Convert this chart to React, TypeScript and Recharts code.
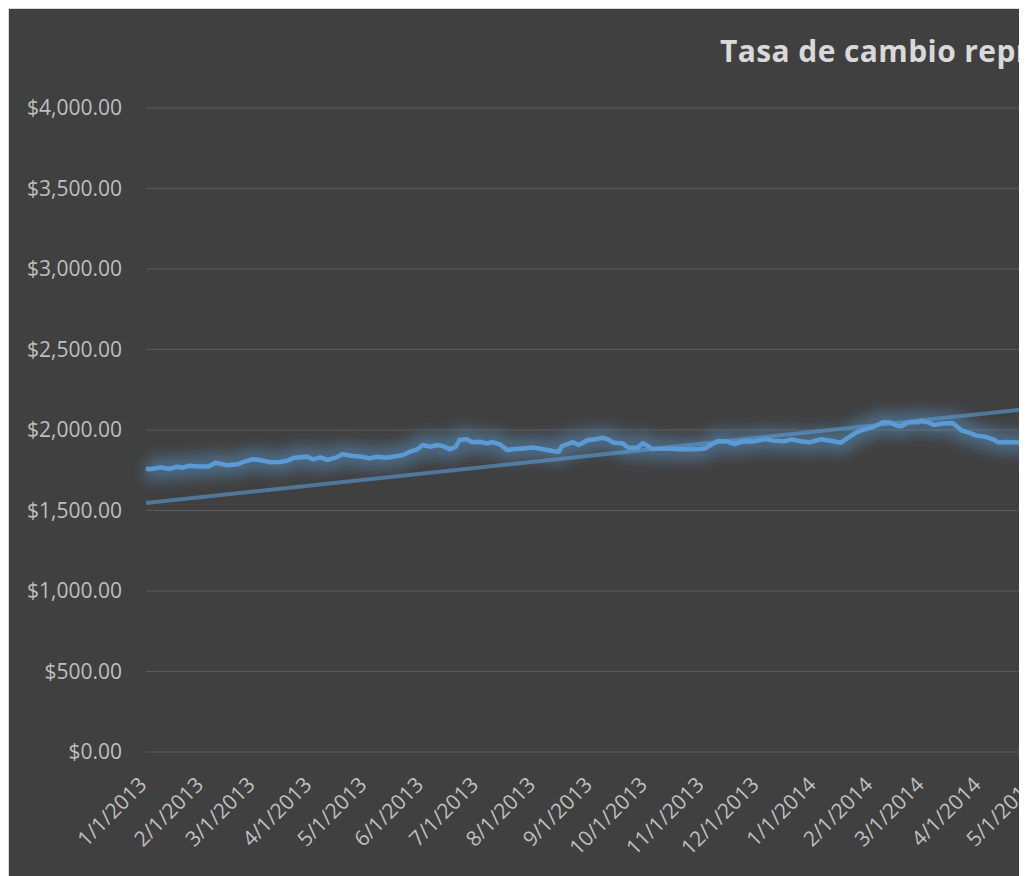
import { LineChart, Line, XAxis, YAxis, CartesianGrid } from "recharts";

// days since 1/1/2013 and the rate read for each one
const days = [
  0, 2, 8, 13, 17, 20, 24, 29, 34, 38,
  44, 50, 53, 58, 62, 68, 73, 77, 81, 88,
  91, 95, 99, 104, 107, 113, 118, 122, 126, 131,
  137, 140, 144, 148, 151, 155, 159, 162, 166, 169,
  171, 175, 178, 182, 186, 189, 193, 197, 200, 204,
  211, 215, 222, 225, 227, 233, 236, 241, 245, 249,
  252, 255, 260, 263, 268, 271, 273, 276, 280, 286,
  291, 297, 302, 305, 308, 312, 317, 321, 326, 331,
  338, 342, 348, 352, 357, 362, 368, 375, 379, 383,
  388, 392, 397, 402, 406, 410, 412, 416, 421, 423,
  427, 430, 434, 440, 442, 445, 450, 453, 458, 462,
  465, 470, 474, 478, 482, 486,
];
const rates = [
  1762, 1756, 1768, 1758, 1772, 1766, 1778, 1774, 1774, 1797,
  1781, 1787, 1801, 1818, 1814, 1799, 1801, 1809, 1828, 1834,
  1818, 1830, 1814, 1830, 1849, 1838, 1834, 1824, 1834, 1828,
  1838, 1845, 1865, 1880, 1907, 1896, 1907, 1900, 1880, 1896,
  1938, 1942, 1924, 1927, 1917, 1925, 1911, 1876, 1880, 1884,
  1892, 1884, 1870, 1865, 1900, 1924, 1907, 1938, 1942, 1952,
  1942, 1921, 1917, 1890, 1890, 1917, 1907, 1882, 1884, 1884,
  1880, 1880, 1882, 1886, 1907, 1932, 1928, 1913, 1930, 1928,
  1944, 1934, 1930, 1942, 1930, 1924, 1942, 1930, 1921, 1952,
  1989, 2004, 2020, 2048, 2046, 2025, 2023, 2048, 2048, 2056,
  2046, 2031, 2040, 2043, 2025, 1996, 1979, 1965, 1958, 1942,
  1924, 1926, 1924, 1921, 1928, 1932,
];

// linear trend (Excel trendline) at the two ends of the axis
const trendDays = [0, 546];
const trendRates = [1547, 2209];

const tickDays = [0, 31, 59, 90, 120, 151, 181, 212, 243, 273, 304, 334, 365, 396, 424, 455, 485, 516];
const tickLabels = [
  "1/1/2013", "2/1/2013", "3/1/2013", "4/1/2013", "5/1/2013", "6/1/2013",
  "7/1/2013", "8/1/2013", "9/1/2013", "10/1/2013", "11/1/2013", "12/1/2013",
  "1/1/2014", "2/1/2014", "3/1/2014", "4/1/2014", "5/1/2014", "6/1/2014",
];
const yTicks = [0, 500, 1000, 1500, 2000, 2500, 3000, 3500, 4000];

const title = "Tasa de cambio representativa del mercado";

const data = days.map((d, i) => ({ day: d, rate: rates[i] }));
const trend = trendDays.map((d, i) => ({ day: d, trend: trendRates[i] }));

const FONT = "'Open Sans', sans-serif";

const money = (v: number) =>
  "$" + v.toLocaleString("en-US", { minimumFractionDigits: 2, maximumFractionDigits: 2 });

function XTick({ x, y, payload }: any) {
  const i = tickDays.indexOf(payload.value);
  const tx = x + 2;
  const ty = y + 34;
  return (
    <text
      x={tx}
      y={ty}
      transform={`rotate(-45, ${tx}, ${ty})`}
      textAnchor="end"
      fill="#bfbfbf"
      fontSize={21}
      fontFamily={FONT}
    >
      {tickLabels[i]}
    </text>
  );
}

export default function App() {
  return (
    <div style={{ width: 1011, height: 900, overflow: "hidden" }}>
      <div
        style={{
          position: "relative",
          width: 1158,
          height: 900,
          background: "#404040",
          borderTop: "1px solid #d9d9d9",
          borderLeft: "1px solid #d9d9d9",
        }}
      >
        <div
          style={{
            position: "absolute",
            left: 711,
            top: 27,
            whiteSpace: "nowrap",
            fontFamily: FONT,
            fontWeight: 700,
            fontSize: 30,
            letterSpacing: 0.4,
            lineHeight: "30px",
            color: "#d9d9d9",
          }}
        >
          {title}
        </div>
        <LineChart
          width={1158}
          height={900}
          data={data}
          margin={{ top: 99, right: 20, left: 17, bottom: 17 }}
        >
          <defs>
            <filter id="glow" filterUnits="userSpaceOnUse" x="0" y="0" width="1400" height="1000">
              <feGaussianBlur stdDeviation="7" />
            </filter>
          </defs>
          <CartesianGrid vertical={false} stroke="#5a5a5a" strokeWidth={1} />
          <XAxis
            dataKey="day"
            type="number"
            domain={[0, 546]}
            ticks={tickDays}
            interval={0}
            axisLine={false}
            tickLine={false}
            tickSize={0}
            tickMargin={0}
            height={140}
            tick={<XTick />}
          />
          <YAxis
            domain={[0, 4000]}
            ticks={yTicks}
            width={120}
            axisLine={false}
            tickLine={false}
            tickSize={0}
            tickMargin={24}
            tickFormatter={money}
            tick={{ fill: "#bfbfbf", fontSize: 21, fontFamily: FONT }}
          />
          <Line
            dataKey="rate"
            type="linear"
            stroke="#5b9bd5"
            strokeWidth={22}
            strokeOpacity={0.45}
            filter="url(#glow)"
            dot={false}
            activeDot={false}
            isAnimationActive={false}
          />
          <Line
            data={trend}
            dataKey="trend"
            type="linear"
            stroke="#5b9bd5"
            strokeOpacity={0.6}
            strokeWidth={4}
            dot={false}
            activeDot={false}
            isAnimationActive={false}
          />
          <Line
            dataKey="rate"
            type="linear"
            stroke="#5b9bd5"
            strokeWidth={4.5}
            strokeLinejoin="round"
            dot={false}
            activeDot={false}
            isAnimationActive={false}
          />
        </LineChart>
      </div>
    </div>
  );
}
